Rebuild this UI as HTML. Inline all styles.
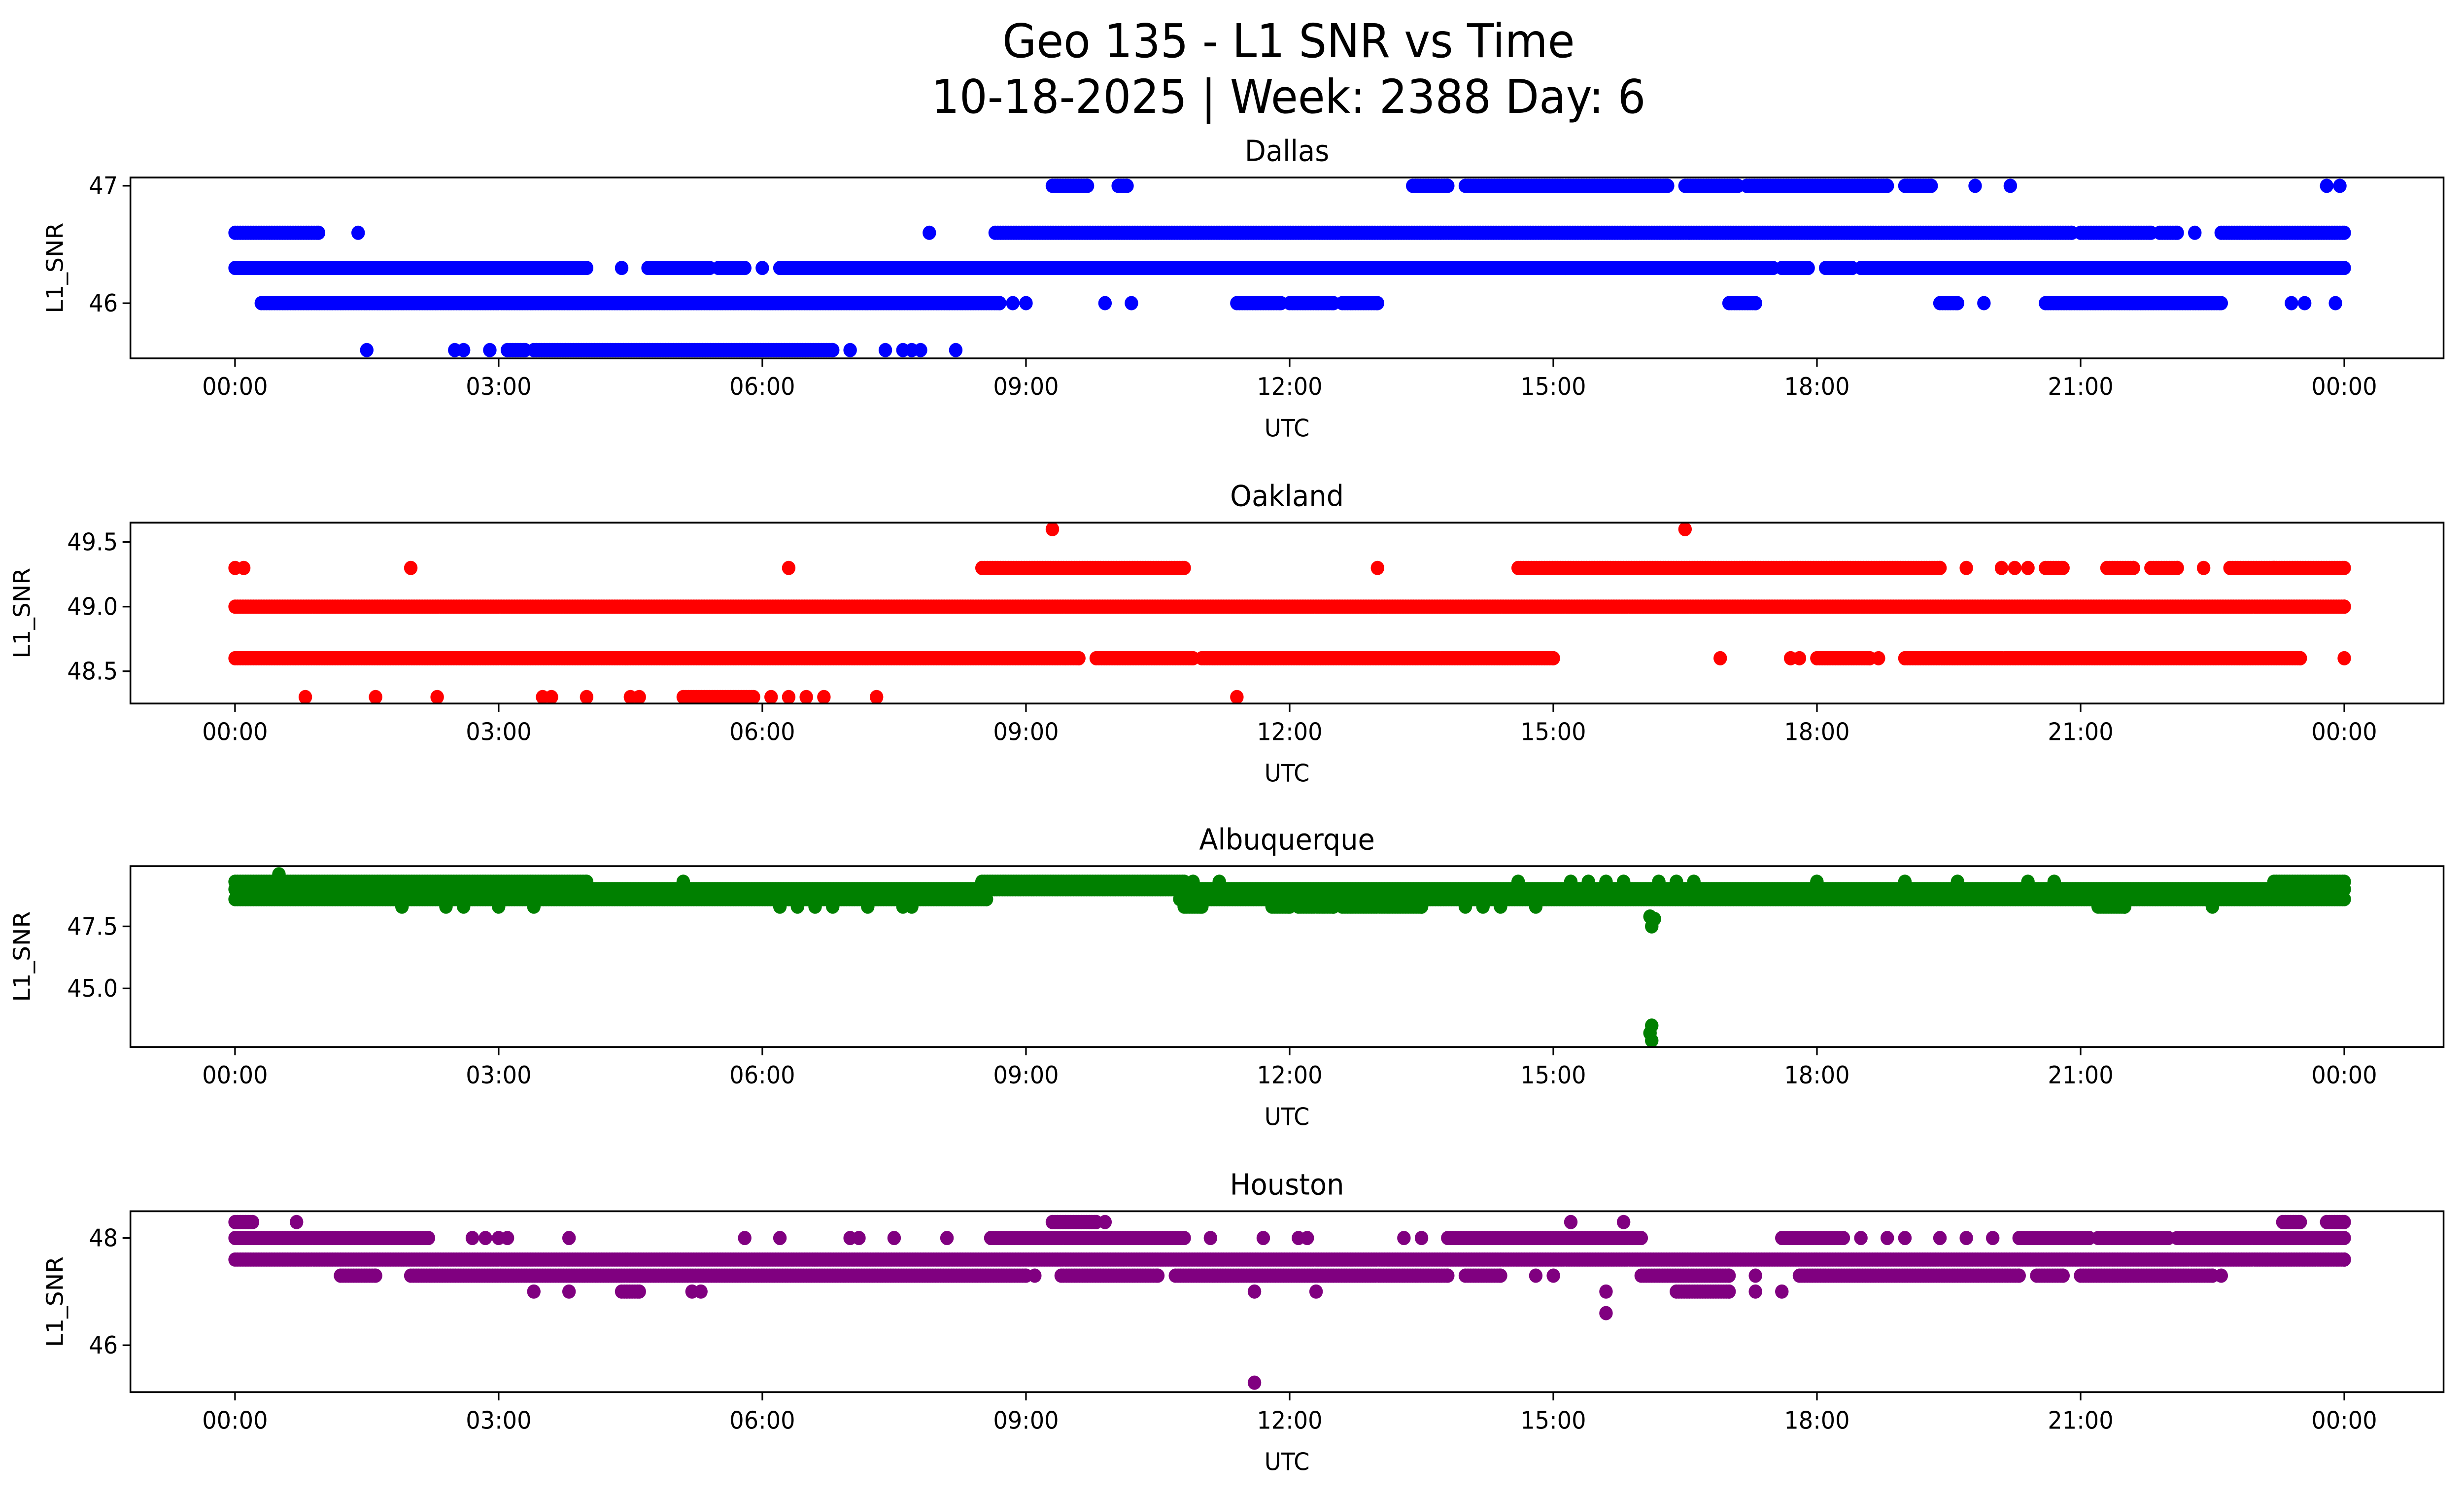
<!DOCTYPE html>
<html><head><meta charset="utf-8">
<style>
html,body{margin:0;padding:0;background:#fff;width:100%;height:100%;overflow:hidden;}
svg{display:block;position:absolute;left:0;top:0;width:100vw;height:100vh;font-family:"DejaVu Sans","Liberation Sans",sans-serif;}
</style></head>
<body>
<svg id="chart" xmlns="http://www.w3.org/2000/svg" viewBox="0 0 1568 901" preserveAspectRatio="none">
<rect width="1568" height="901" fill="#fff"/>
<text x="820" y="34.5" font-size="28" text-anchor="middle">Geo 135 - L1 SNR vs Time</text>
<text x="820" y="68" font-size="28" text-anchor="middle">10-18-2025 | Week: 2388 Day: 6</text>
<g id="panels"></g>
</svg>
<script>
// x ticks (hours)
const xTickHours = [0,3,6,9,12,15,18,21,24];
const xTickLabels = ["00:00","03:00","06:00","09:00","12:00","15:00","18:00","21:00","00:00"];
const stations = ["Dallas","Oakland","Albuquerque","Houston"];
const colors = ["#0000ff","#ff0000","#008000","#800080"];
// y ticks
const dallasTicks = [46,47];
const oaklandTicks = [48.5,49.0,49.5];
const albuqTicks = [45.0,47.5];
const houstonTicks = [46,48];
const tickDigits = [0,1,1,0];
// y ranges
const yRanges = [[45.53,47.07],[48.25,49.65],[42.64,49.93],[45.125,48.5]];
// dense runs: [value, startHour, endHour]
const dallasRuns = [
[47.0,9.3,9.7],[47.0,10.05,10.15],[47.0,13.4,13.8],[47.0,14.0,16.3],[47.0,16.5,17.1],[47.0,17.2,18.8],[47.0,19.0,19.3],
[46.6,0,0.95],[46.6,8.65,20.9],[46.6,21.0,21.8],[46.6,21.9,22.1],[46.6,22.6,24.0],
[46.3,0,4.0],[46.3,4.7,5.4],[46.3,5.5,5.8],[46.3,6.2,17.5],[46.3,17.6,17.9],[46.3,18.1,18.4],[46.3,18.5,24],
[46.0,0.3,8.7],[46.0,11.4,11.9],[46.0,12.0,12.5],[46.0,12.6,13.0],[46.0,17.0,17.3],[46.0,19.4,19.6],[46.0,20.6,22.6],
[45.6,3.1,3.3],[45.6,3.4,6.8]];
const dallasPoints = [[47.0,19.8],[47.0,20.2],[47.0,23.8],[47.0,23.95],[46.6,1.4],[46.6,7.9],[46.6,22.3],
[46.3,4.4],[46.3,6.0],[46.0,8.85],[46.0,9.0],[46.0,9.9],[46.0,10.2],[46.0,19.9],[46.0,23.4],[46.0,23.55],[46.0,23.9],
[45.6,1.5],[45.6,2.5],[45.6,2.6],[45.6,2.9],[45.6,7.0],[45.6,7.4],[45.6,7.6],[45.6,7.7],[45.6,7.8],[45.6,8.2]];
const oaklandRuns = [
[49.3,8.5,10.8],[49.3,14.6,19.4],[49.3,20.6,20.8],[49.3,21.3,21.6],[49.3,21.8,22.1],[49.3,22.7,23.2],[49.3,23.2,24],
[49.0,0,24],
[48.6,0,9.6],[48.6,9.8,10.9],[48.6,11.0,15.0],[48.6,18.0,18.6],[48.6,19.0,23.5],
[48.3,5.1,5.9]];
const oaklandPoints = [[49.6,9.3],[49.6,16.5],[49.3,0.0],[49.3,0.1],[49.3,2.0],[49.3,6.3],[49.3,13.0],[49.3,19.7],[49.3,20.1],[49.3,20.25],[49.3,20.4],[49.3,22.4],
[48.6,16.9],[48.6,17.7],[48.6,17.8],[48.6,18.7],[48.6,24],
[48.3,0.8],[48.3,1.6],[48.3,2.3],[48.3,3.5],[48.3,3.6],[48.3,4.0],[48.3,4.5],[48.3,4.6],[48.3,6.1],[48.3,6.3],[48.3,6.5],[48.3,6.7],[48.3,7.3],[48.3,11.4]];
const albuqRuns = [
[49.3,0,4.0],[49.3,8.5,10.8],[49.3,23.2,24],
[49.0,0,24],
[48.6,0,8.55],[48.6,10.75,24],
[48.3,10.8,11.0],[48.3,11.8,12.0],[48.3,12.1,12.5],[48.3,12.6,13.5],[48.3,21.2,21.5]];
const albuqPoints = [[49.6,0.5],[49.3,5.1],[49.3,10.9],[49.3,11.2],[49.3,14.6],[49.3,15.2],[49.3,15.4],[49.3,15.6],[49.3,15.8],[49.3,16.2],[49.3,16.4],[49.3,16.6],[49.3,18.0],[49.3,19.0],[49.3,19.6],[49.3,20.4],[49.3,20.7],
[48.3,1.9],[48.3,2.4],[48.3,2.6],[48.3,3.0],[48.3,3.4],[48.3,6.2],[48.3,6.4],[48.3,6.6],[48.3,6.8],[48.3,7.2],[48.3,7.6],[48.3,7.7],[48.3,14.0],[48.3,14.2],[48.3,14.4],[48.3,14.8],[48.3,22.5],
[47.9,16.1],[47.8,16.15],[47.5,16.12],[43.5,16.12],[43.2,16.1],[42.9,16.12]];
const houstonRuns = [
[48.3,0,0.2],[48.3,9.3,9.8],[48.3,23.3,23.5],[48.3,23.8,24],
[48.0,0,1.3],[48.0,1.3,2.2],[48.0,8.6,10.8],[48.0,13.8,16.0],[48.0,17.6,18.3],[48.0,20.3,21.1],[48.0,21.2,22.0],[48.0,22.1,24],
[47.6,0,24],
[47.3,1.2,1.6],[47.3,2.0,9.0],[47.3,9.4,10.5],[47.3,10.7,13.8],[47.3,14.0,14.4],[47.3,16.0,17.0],[47.3,17.8,20.3],[47.3,20.5,20.8],[47.3,21.0,22.5],
[47.0,4.4,4.6],[47.0,16.4,17.0]];
const houstonPoints = [[48.3,0.7],[48.3,9.9],[48.3,15.2],[48.3,15.8],
[48.0,2.7],[48.0,2.85],[48.0,3.0],[48.0,3.1],[48.0,3.8],[48.0,5.8],[48.0,6.2],[48.0,7.0],[48.0,7.1],[48.0,7.5],[48.0,8.1],[48.0,11.1],[48.0,11.7],[48.0,12.1],[48.0,12.2],[48.0,13.3],[48.0,13.5],[48.0,18.5],[48.0,18.8],[48.0,19.0],[48.0,19.4],[48.0,19.7],[48.0,20.0],
[47.3,9.1],[47.3,14.8],[47.3,15.0],[47.3,17.3],[47.3,22.6],
[47.0,3.4],[47.0,3.8],[47.0,5.2],[47.0,5.3],[47.0,11.6],[47.0,12.3],[47.0,15.6],[47.0,17.3],[47.0,17.6],
[46.6,15.6],[45.3,11.6]];

const allTicks=[dallasTicks,oaklandTicks,albuqTicks,houstonTicks];
const allRuns=[dallasRuns,oaklandRuns,albuqRuns,houstonRuns];
const allPoints=[dallasPoints,oaklandPoints,albuqPoints,houstonPoints];
const NS="http://www.w3.org/2000/svg";
const left=83,right=1555,tops=[107,315,522,730],ph=109;
const ylabX=[40,19,19,40];
const xMin=-1.19,xMax=25.13;
function xScale(h){return left+(h-xMin)/(xMax-xMin)*(right-left);}
function mk(tag,attrs,parent){const e=document.createElementNS(NS,tag);for(const k in attrs)e.setAttribute(k,attrs[k]);parent.appendChild(e);return e;}
const root=document.getElementById('panels');
stations.forEach((name,i)=>{
  const top=tops[i],bot=top+ph,[y0,y1]=yRanges[i];
  const yScale=v=>bot-(v-y0)/(y1-y0)*ph;
  const g=mk('g',{},root);
  
  
  const cp='clip'+i;
  const defs=mk('defs',{},g);const c=mk('clipPath',{id:cp},defs);mk('rect',{x:left,y:top,width:right-left,height:ph},c);
  const pts=mk('g',{fill:colors[i],'clip-path':'url(#'+cp+')'},g);
  
  
  const dot=(v,h)=>{mk('circle',{cx:xScale(h).toFixed(1),cy:yScale(v).toFixed(1),r:4.3},pts);};
  allRuns[i].forEach(([v,a,b])=>{for(let h=a;h<=b+1e-9;h+=0.03)dot(v,h);dot(v,b);});
  allPoints[i].forEach(([v,h])=>dot(v,h));
  const frame=mk('rect',{x:left,y:top,width:right-left,height:ph,fill:'none',stroke:'#000','stroke-width':1.1},g);
  
  
  xTickHours.forEach((h,k)=>{const x=xScale(h);
    mk('line',{x1:x,x2:x,y1:bot,y2:bot+5,stroke:'#000','stroke-width':1},g);
    const t=mk('text',{x:x,y:bot+22,'font-size':14.5,'text-anchor':'middle'},g);t.textContent=xTickLabels[k];
    
    
  });
  allTicks[i].forEach(v=>{const y=yScale(v);
    mk('line',{x1:left-5,x2:left,y1:y,y2:y,stroke:'#000','stroke-width':1},g);
    const t=mk('text',{x:left-8,y:y+5,'font-size':14.5,'text-anchor':'end'},g);t.textContent=v.toFixed(tickDigits[i]);
    
    
  });
  const xl=mk('text',{x:(left+right)/2,y:bot+47,'font-size':14.5,'text-anchor':'middle'},g);xl.textContent='UTC';
  
  
  const yl=mk('text',{x:0,y:0,'font-size':14.5,'text-anchor':'middle',transform:`translate(${ylabX[i]},${top+ph/2}) rotate(-90)`},g);yl.textContent='L1_SNR';
  
  
  const tt=mk('text',{x:(left+right)/2,y:top-10,'font-size':17.5,'text-anchor':'middle'},g);tt.textContent=name;
  
  
});
</script>
</body></html>
